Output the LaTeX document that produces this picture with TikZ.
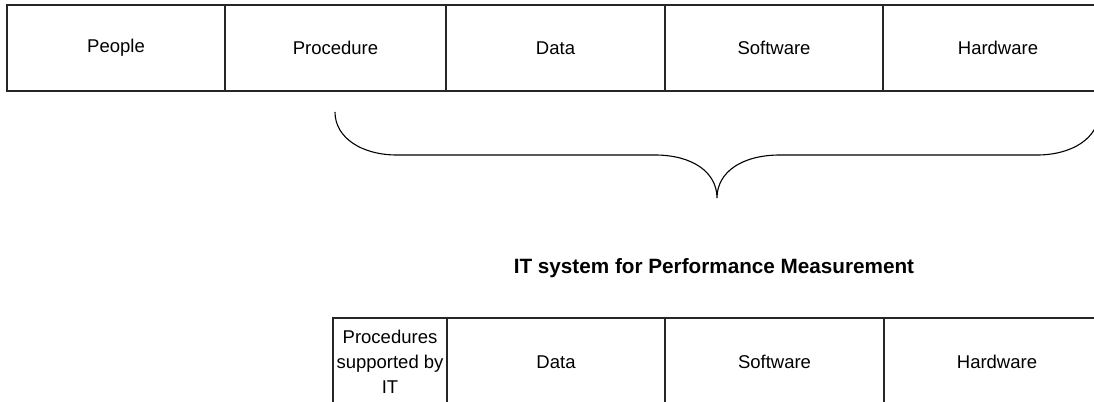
\documentclass[tikz,border=0pt]{standalone}
\usepackage{fontspec}
\setmainfont{Liberation Sans}
\usetikzlibrary{positioning}

\begin{document}
\begin{tikzpicture}[x=0.5pt, y=-0.5pt, line width=0.6pt,
every node/.style={font=\fontsize{9.25}{12.5}\selectfont},
cell/.style={draw=black!85, rectangle, outer sep=0pt, inner sep=1pt,
minimum height=43pt, align=center},
lowcell/.style={cell, minimum height=44pt},
brace/.style={draw=black, line width=0.55pt}]
\useasboundingbox (0,0) rectangle (1094,402);
\clip (0,0) rectangle (1094,402);
\node[cell, minimum width=109pt, anchor=west] (people) at (7,48) {People};
\node[cell, minimum width=110.5pt, right=0pt of people] (procedure) {Procedure};
\node[cell, minimum width=109.5pt, right=0pt of procedure] (data) {Data};
\node[cell, minimum width=109pt, right=0pt of data] (software) {Software};
\node[cell, minimum width=115pt, right=0pt of software] (hardware) {Hardware};
\path[brace] (335,112) .. controls (335,138) and (362,155) .. (397,155)
  -- (655,155) .. controls (692,155) and (717,172) .. (717,198)
  .. controls (717,172) and (742,155) .. (780,155)
  -- (1037,155) .. controls (1072,155) and (1099,138) .. (1099,112);
\node[font=\fontsize{10.35}{12}\selectfont\bfseries] (title) at (714,268)
  {IT system for Performance Measurement};
\node[lowcell, minimum width=57pt, anchor=west] (itproc) at (333,362)
  {Procedures\\supported by\\IT};
\node[lowcell, minimum width=109pt, right=0pt of itproc] (itdata) {Data};
\node[lowcell, minimum width=109.5pt, right=0pt of itdata] (itsoftware) {Software};
\node[lowcell, minimum width=113pt, right=0pt of itsoftware] (ithardware) {Hardware};
\end{tikzpicture}
\end{document}
